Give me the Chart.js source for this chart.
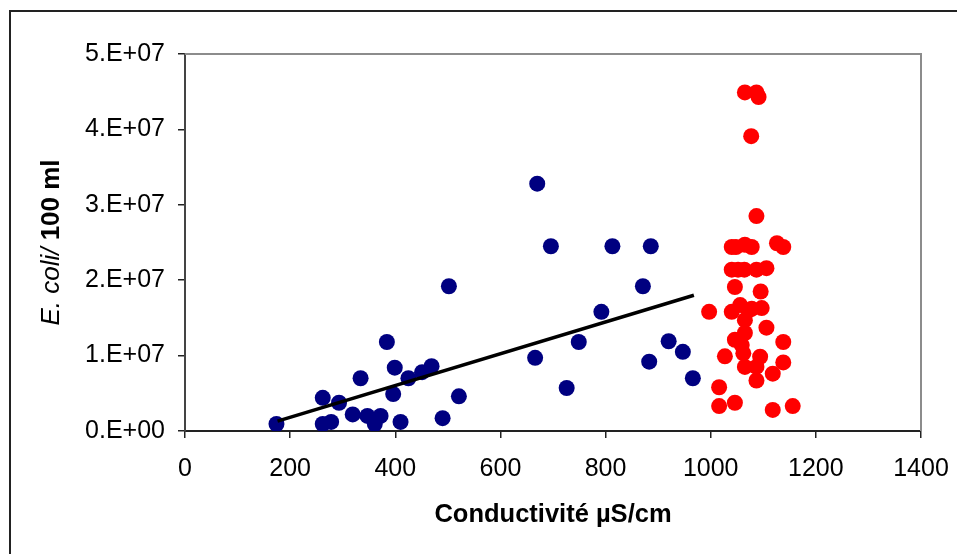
<!DOCTYPE html>
<html>
<head>
<meta charset="utf-8">
<script src="https://cdn.jsdelivr.net/npm/chart.js@4.4.1/dist/chart.umd.min.js"></script>
<style>
  html, body { margin: 0; padding: 0; background: #fff; }
  #wrap { width: 957px; height: 554px; position: relative; }
</style>
</head>
<body>
<div id="wrap"><canvas id="graphique"></canvas></div>
<script>
// points bleus (conductivité < 1000)
const conductiviteBleu = [174, 262, 278, 262, 293, 319, 334, 347, 361, 372, 384, 399, 396, 410, 425, 451, 469, 490, 521, 502,
  670, 696, 813, 886, 871, 792, 749, 666, 726, 920, 947, 883, 966];
const ecoliBleu = [0.93e6, 0.93e6, 1.2e6, 4.4e6, 3.75e6, 2.2e6, 7.0e6, 2.0e6, 0.93e6, 2.0e6, 11.8e6, 8.4e6, 4.9e6, 1.2e6, 7.0e6, 7.8e6, 8.6e6, 1.7e6, 4.6e6, 19.2e6,
  32.8e6, 24.5e6, 24.5e6, 24.5e6, 19.2e6, 15.8e6, 11.8e6, 9.7e6, 5.7e6, 11.9e6, 10.5e6, 9.2e6, 7.0e6];

// points rouges (conductivité > 1000)
const conductiviteRouge = [1065, 1087, 1091, 1077, 1087,
  1040, 1048, 1065, 1078, 1126, 1138,
  1040, 1052, 1064, 1087, 1106,
  1046, 1095, 997, 1040, 1056, 1072, 1097, 1078, 1065, 1065, 1106, 1046, 1059, 1138,
  1027, 1062, 1094, 1138, 1065, 1087, 1118, 1087, 1016, 1046, 1016, 1118, 1156];
const ecoliRouge = [44.9e6, 44.9e6, 44.3e6, 39.1e6, 28.5e6,
  24.4e6, 24.4e6, 24.7e6, 24.4e6, 24.9e6, 24.4e6,
  21.4e6, 21.4e6, 21.4e6, 21.4e6, 21.6e6,
  19.1e6, 18.5e6, 15.8e6, 15.8e6, 16.7e6, 16.0e6, 16.3e6, 16.2e6, 14.7e6, 13.0e6, 13.7e6, 12.1e6, 11.4e6, 11.8e6,
  9.9e6, 10.3e6, 9.85e6, 9.1e6, 8.5e6, 8.5e6, 7.6e6, 6.7e6, 5.8e6, 3.75e6, 3.3e6, 2.8e6, 3.3e6];

// droite de tendance (extrémités)
const tendanceX = [176, 968];
const tendanceY = [1.3e6, 1.8e7];

const xTickLabels = ['0', '200', '400', '600', '800', '1000', '1200', '1400'];
const yTickLabels = ['0.E+00', '1.E+07', '2.E+07', '3.E+07', '4.E+07', '5.E+07'];

const toPoints = (xs, ys) => xs.map((x, i) => ({ x: x, y: ys[i] }));

// cadre extérieur, bord gris de la zone de tracé et titres des axes
const decor = {
  id: 'decor',
  beforeDatasetsDraw(chart) {
    const c = chart.ctx, a = chart.chartArea;
    c.save();
    c.strokeStyle = '#8c8c8c';
    c.lineWidth = 2;
    c.beginPath();
    c.moveTo(a.left, a.top);
    c.lineTo(a.right, a.top);
    c.lineTo(a.right, a.bottom);
    c.stroke();
    c.restore();
  },
  afterDraw(chart) {
    const c = chart.ctx, a = chart.chartArea;
    c.save();
    c.strokeStyle = '#222';
    c.lineWidth = 2;
    c.strokeRect(10, 11, 1000, 600);

    // titre axe X
    c.fillStyle = '#000';
    c.font = 'bold 25.5px "Liberation Sans", Arial, sans-serif';
    c.textAlign = 'center';
    c.textBaseline = 'middle';
    c.fillText('Conductivité µS/cm', (a.left + a.right) / 2, 515);

    // titre axe Y : "E. coli/" en italique, "100 ml" en gras
    const p1 = 'E. coli/ ', p2 = '100 ml';
    const f1 = 'italic 26px "Liberation Sans", Arial, sans-serif';
    const f2 = 'bold 26px "Liberation Sans", Arial, sans-serif';
    c.font = f1; const w1 = c.measureText(p1).width;
    c.font = f2; const w2 = c.measureText(p2).width;
    c.translate(52, (a.top + a.bottom) / 2);
    c.rotate(-Math.PI / 2);
    c.textAlign = 'left';
    c.font = f1;
    c.fillText(p1, -(w1 + w2) / 2, 0);
    c.font = f2;
    c.fillText(p2, -(w1 + w2) / 2 + w1, 0);
    c.restore();
  }
};

const ctx = document.getElementById('graphique').getContext('2d');

new Chart(ctx, {
  type: 'scatter',
  data: {
    datasets: [
      {
        label: 'Tendance',
        data: toPoints(tendanceX, tendanceY),
        showLine: true,
        borderColor: '#000',
        borderWidth: 3.5,
        pointRadius: 0,
        order: 0
      },
      {
        label: 'Conductivité < 1000',
        data: toPoints(conductiviteBleu, ecoliBleu),
        backgroundColor: '#000080',
        borderColor: '#000080',
        pointRadius: 8,
        pointBorderWidth: 0,
        order: 2
      },
      {
        label: 'Conductivité > 1000',
        data: toPoints(conductiviteRouge, ecoliRouge),
        backgroundColor: '#ff0000',
        borderColor: '#ff0000',
        pointRadius: 8,
        pointBorderWidth: 0,
        order: 1
      }
    ]
  },
  options: {
    responsive: true,
    maintainAspectRatio: false,
    animation: false,
    layout: { padding: { left: 0, top: 54, right: 36, bottom: 0 } },
    plugins: {
      legend: { display: false },
      tooltip: { enabled: false }
    },
    scales: {
      x: {
        type: 'linear',
        min: 0,
        max: 1400,
        afterFit: (s) => { s.height = 123; s.paddingLeft = 0; s.paddingRight = 0; },
        border: { display: true, color: '#222', width: 2 },
        grid: { drawOnChartArea: false, drawTicks: true, tickLength: 7, color: '#222', lineWidth: 1.5 },
        ticks: {
          stepSize: 200,
          color: '#000',
          padding: 16,
          maxRotation: 0,
          callback: (v, i) => xTickLabels[i],
          font: { family: '"Liberation Sans", Arial, sans-serif', size: 25 }
        }
      },
      y: {
        type: 'linear',
        min: 0,
        max: 5e7,
        afterFit: (s) => { s.width = 185; s.paddingTop = 0; s.paddingBottom = 0; },
        border: { display: true, color: '#444', width: 2 },
        grid: { drawOnChartArea: false, drawTicks: true, tickLength: 7, color: '#222', lineWidth: 1.5 },
        ticks: {
          stepSize: 1e7,
          color: '#000',
          padding: 13,
          callback: (v, i) => yTickLabels[i],
          font: { family: '"Liberation Sans", Arial, sans-serif', size: 25 }
        }
      }
    }
  },
  plugins: [decor]
});
</script>
</body>
</html>
